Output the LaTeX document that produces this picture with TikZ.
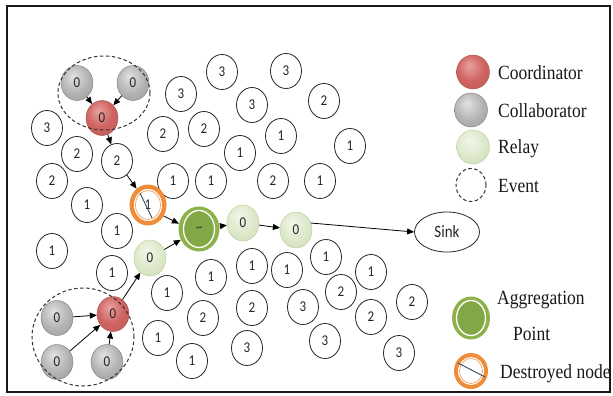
\documentclass[tikz,border=0pt]{standalone}
\usepackage{fontspec}
\usepackage{graphicx}
\usetikzlibrary{shapes.geometric,arrows.meta}
\newfontfamily\nodefont{Carlito}
\newfontfamily\legendfont{Liberation Serif}
\newcommand\nd[1]{\scalebox{1}[1.15]{#1}}

% ball colours
\definecolor{redL}{HTML}{E8A3A1}
\definecolor{redM}{HTML}{CF6361}
\definecolor{redD}{HTML}{A23A38}
\definecolor{grayL}{HTML}{E2E2E2}
\definecolor{grayM}{HTML}{B2B2B2}
\definecolor{grayD}{HTML}{7C7C7C}
\definecolor{grnL}{HTML}{F2F6EA}
\definecolor{grnM}{HTML}{DDE8C9}
\definecolor{grnD}{HTML}{B9CC98}
\definecolor{aggOut}{HTML}{8DB24C}
\definecolor{aggIn}{HTML}{82A845}
\definecolor{destOr}{HTML}{EE8C3A}
\definecolor{slashC}{HTML}{3A4A60}

\pgfdeclareradialshading{ballred}{\pgfpoint{-6bp}{10bp}}{color(0bp)=(redL); color(20bp)=(redM); color(42bp)=(redM!90!black); color(50bp)=(redD); color(60bp)=(redD)}
\pgfdeclareradialshading{ballgray}{\pgfpoint{-6bp}{10bp}}{color(0bp)=(grayL); color(22bp)=(grayM); color(42bp)=(grayM!85!black); color(50bp)=(grayD); color(60bp)=(grayD)}
\pgfdeclareradialshading{ballgreen}{\pgfpoint{-6bp}{10bp}}{color(0bp)=(grnL); color(22bp)=(grnM); color(42bp)=(grnM!92!black); color(50bp)=(grnD); color(60bp)=(grnD)}

\tikzset{
  sensor/.style={ellipse, inner sep=0pt, minimum width=31pt, minimum height=35pt,
    font=\nodefont\fontsize{13}{13}\selectfont, text=black!85},
  plain/.style={sensor, draw=black!85, line width=0.8pt, fill=white},
  coord/.style={sensor, shading=ballred, draw=redD!90, line width=0.4pt, minimum width=32pt},
  collab/.style={sensor, shading=ballgray, draw=grayD, line width=0.4pt, minimum width=32pt},
  relay/.style={sensor, shading=ballgreen, draw=grnD, line width=0.4pt, minimum width=32pt, minimum height=36pt},
  eventring/.style={ellipse, draw=black!80, line width=1pt, dash pattern=on 3.5pt off 2.5pt, inner sep=0pt},
  arr/.style={-{Triangle[length=7pt,width=6pt]}, line width=0.8pt, black},
  slash/.style={draw=slashC, line width=0.9pt},
  lgtext/.style={anchor=base west, inner sep=0pt, font=\legendfont\fontsize{17.5}{18}\selectfont, text=black!90},
}

\begin{document}
\begin{tikzpicture}[x=1pt,y=-1pt]
\useasboundingbox (0,0) rectangle (613,396);
\fill[white] (0,0) rectangle (613,396);
\draw[line width=2pt, black!90] (7,6) rectangle (610,392);

% ordinary sensor nodes with their hop counts
\foreach \n/\x/\y/\t in {
  w1/222/72/3, w2/286/71/3, w3/181/94/3, w4/252/105/3, w5/324/101/2,
  w6/47/128/3, w7/163/134/2, w8/204/129/2, w9/281/136/1, w10/350/146/1,
  w11/77/154/2, w12/117/161/2, w13/240/153/1,
  w14/52/181/2, w15/173/181/1, w16/211/181/1, w17/273/181/2, w18/320/181/1,
  w19/87/205/1, w20/117/231/1, w21/52/251/1,
  w22/112/273/1, w23/211/277/1, w24/252/266/1, w25/287/270/1, w26/326/257/1, w27/371/272/1,
  w28/167/293/1, w29/341/292/2, w30/412/302/2,
  w31/203/318/2, w32/252/308/2, w33/303/307/3, w34/371/317/2,
  w35/158/338/1, w36/247/348/3, w37/325/341/3, w38/399/353/3, w39/192/361/1}
  \node[plain] (\n) at (\x,\y) {\nd{\t}};

% upper event: two collaborators and a coordinator
\node[collab] (g1) at (77,83) {\nd{0}};
\node[collab] (g2) at (133,83) {\nd{0}};
\node[coord] (c1) at (102,118) {\nd{0}};

% lower event
\node[collab] (g3) at (57,318) {\nd{0}};
\node[collab] (g4) at (57,362) {\nd{0}};
\node[collab] (g5) at (107,362) {\nd{0}};
\node[coord] (c2) at (113,314) {\nd{0}};

% relays
\node[relay] (r1) at (150,258) {\nd{0}};
\node[relay] (r2) at (243,223) {\nd{0}};
\node[relay] (r3) at (296,230) {\nd{0}};

% aggregation point
\node[ellipse, fill=aggOut, minimum width=41pt, minimum height=45pt, inner sep=0pt] (agg) at (199,229) {};
\node[ellipse, fill=aggIn, draw=white, line width=1.3pt, minimum width=31pt, minimum height=37pt,
  inner sep=0pt, font=\nodefont\fontsize{13}{13}\selectfont, text=black!80] (aggin) at (agg.center) {\raisebox{-3pt}{\textasciitilde}};

% destroyed node
\node[ellipse, fill=destOr, minimum width=37pt, minimum height=41pt, inner sep=0pt] (dest) at (148,205) {};
\node[ellipse, fill=white, minimum width=28pt, minimum height=32pt, inner sep=0pt] (destgap) at (dest.center) {};
\node[ellipse, draw=destOr!80, fill=white, line width=0.7pt, minimum width=25pt, minimum height=29pt,
  inner sep=0pt, font=\nodefont\fontsize{13}{13}\selectfont, text=black!80] (destin) at (dest.center) {\nd{1}};
\draw[slash] ([shift={(-8,-12)}]dest.center) -- ([shift={(4,13)}]dest.center);

% sink
\node[ellipse, draw=black!85, line width=0.8pt, fill=white, minimum width=65pt, minimum height=40pt,
  inner sep=0pt, font=\nodefont\fontsize{15}{15}\selectfont, text=black!85] (sink) at (447,232) {\nd{Sink}};

% event areas
\node[eventring, minimum width=92pt, minimum height=74pt] (ev1) at (104,93) {};
\node[eventring, minimum width=102pt, minimum height=98pt] (ev2) at (83,337) {};

% data flow
\draw[arr] (g1) -- (c1);
\draw[arr] (g2) -- (c1);
\draw[arr] (c1) -- (w12);
\draw[arr] (w12) -- (dest);
\draw[arr] (dest.-35) -- (agg.165);
\draw[arr] (g3) -- (c2);
\draw[arr] (g4) -- (c2);
\draw[arr] (g5) -- (c2);
\draw[arr] (c2) -- (r1);
\draw[arr] (r1) -- (agg);
\draw[arr] (agg) -- (r2);
\draw[arr] (r2) -- (r3);
\draw[arr] (r3.25) -- (sink.west);

% legend
\node[coord, minimum width=33pt, minimum height=34pt] (lgcoord) at (473,72) {};
\node[collab, minimum width=33pt, minimum height=34pt] (lgcollab) at (471,110) {};
\node[relay, minimum width=33pt, minimum height=34pt] (lgrelay) at (473,147) {};
\node[eventring, minimum width=30pt, minimum height=33pt] (lgevent) at (471,185) {};
\node[ellipse, fill=aggOut, minimum width=38pt, minimum height=43pt, inner sep=0pt] (lgagg) at (471,318) {};
\node[ellipse, fill=aggIn, draw=white, line width=1.3pt, minimum width=29pt, minimum height=35pt, inner sep=0pt] (lgaggin) at (lgagg.center) {};
\node[ellipse, fill=destOr, minimum width=34pt, minimum height=36pt, inner sep=0pt] (lgdest) at (471,371) {};
\node[ellipse, fill=white, minimum width=26pt, minimum height=28pt, inner sep=0pt] (lgdestgap) at (lgdest.center) {};
\node[ellipse, draw=destOr!80, fill=white, line width=0.7pt, minimum width=23pt, minimum height=25pt, inner sep=0pt] (lgdestin) at (lgdest.center) {};
\draw[slash] ([shift={(-13,-8)}]lgdest.center) -- ([shift={(14,6)}]lgdest.center);

\node[lgtext] (t1) at (498,79) {\nd{Coordinator}};
\node[lgtext] (t2) at (498,117) {\nd{Collaborator}};
\node[lgtext] (t3) at (498,153) {\nd{Relay}};
\node[lgtext] (t4) at (498,192) {\nd{Event}};
\node[lgtext] (t5) at (497,304) {\nd{Aggregation}};
\node[lgtext] (t6) at (513,340) {\nd{Point}};
\node[lgtext] (t7) at (500,378) {\nd{Destroyed node}};
\end{tikzpicture}
\end{document}
